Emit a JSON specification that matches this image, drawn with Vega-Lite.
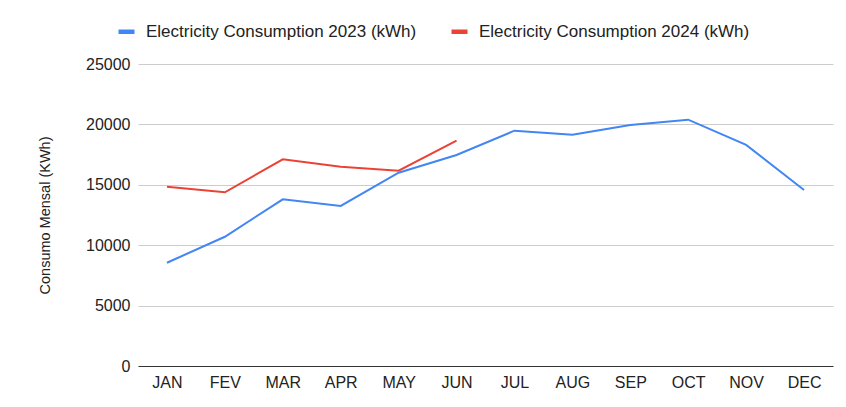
{
  "$schema": "https://vega.github.io/schema/vega-lite/v6.json",
  "width": 695,
  "height": 302,
  "autosize": {"type": "none"},
  "padding": {"left": 138, "top": 64, "right": 13, "bottom": 41},
  "background": "white",
  "config": {
    "view": {"stroke": null},
    "font": "Liberation Sans"
  },
  "data": {
    "values": [
      {"month": "JAN", "series": "Electricity Consumption 2023 (kWh)", "value": 8550},
      {"month": "FEV", "series": "Electricity Consumption 2023 (kWh)", "value": 10700},
      {"month": "MAR", "series": "Electricity Consumption 2023 (kWh)", "value": 13800},
      {"month": "APR", "series": "Electricity Consumption 2023 (kWh)", "value": 13250},
      {"month": "MAY", "series": "Electricity Consumption 2023 (kWh)", "value": 16000},
      {"month": "JUN", "series": "Electricity Consumption 2023 (kWh)", "value": 17470},
      {"month": "JUL", "series": "Electricity Consumption 2023 (kWh)", "value": 19480},
      {"month": "AUG", "series": "Electricity Consumption 2023 (kWh)", "value": 19150},
      {"month": "SEP", "series": "Electricity Consumption 2023 (kWh)", "value": 19950},
      {"month": "OCT", "series": "Electricity Consumption 2023 (kWh)", "value": 20390},
      {"month": "NOV", "series": "Electricity Consumption 2023 (kWh)", "value": 18300},
      {"month": "DEC", "series": "Electricity Consumption 2023 (kWh)", "value": 14570},
      {"month": "JAN", "series": "Electricity Consumption 2024 (kWh)", "value": 14840},
      {"month": "FEV", "series": "Electricity Consumption 2024 (kWh)", "value": 14380},
      {"month": "MAR", "series": "Electricity Consumption 2024 (kWh)", "value": 17110},
      {"month": "APR", "series": "Electricity Consumption 2024 (kWh)", "value": 16500},
      {"month": "MAY", "series": "Electricity Consumption 2024 (kWh)", "value": 16170},
      {"month": "JUN", "series": "Electricity Consumption 2024 (kWh)", "value": 18650}
    ]
  },
  "mark": {"type": "line", "strokeWidth": 2},
  "encoding": {
    "x": {
      "field": "month",
      "type": "ordinal",
      "sort": ["JAN", "FEV", "MAR", "APR", "MAY", "JUN", "JUL", "AUG", "SEP", "OCT", "NOV", "DEC"],
      "scale": {"type": "point", "padding": 0.5},
      "axis": {
        "title": null,
        "labelAngle": 0,
        "ticks": false,
        "grid": false,
        "domain": true,
        "domainColor": "#333333",
        "domainWidth": 1,
        "labelFontSize": 16,
        "labelColor": "#222222",
        "labelPadding": 8
      }
    },
    "y": {
      "field": "value",
      "type": "quantitative",
      "scale": {"domain": [0, 25000], "nice": false},
      "axis": {
        "title": "Consumo Mensal (KWh)",
        "values": [0, 5000, 10000, 15000, 20000, 25000],
        "format": "d",
        "domain": false,
        "ticks": false,
        "grid": true,
        "gridColor": "#cccccc",
        "gridWidth": 1,
        "labelFontSize": 16,
        "labelColor": "#222222",
        "labelPadding": 8,
        "titleFontSize": 14.5,
        "titleFontWeight": "normal",
        "titleColor": "#222222",
        "titleX": -86,
        "titleY": 151
      }
    },
    "color": {
      "field": "series",
      "type": "nominal",
      "scale": {"range": ["#4285F4", "#EA4335"]},
      "legend": {
        "title": null,
        "orient": "none",
        "direction": "horizontal",
        "legendX": -22,
        "legendY": -43,
        "symbolType": "stroke",
        "symbolStrokeWidth": 4.5,
        "symbolSize": 256,
        "labelFontSize": 17,
        "labelLimit": 0,
        "labelColor": "#222222",
        "labelOffset": 9,
        "columnPadding": 25
      }
    }
  }
}
